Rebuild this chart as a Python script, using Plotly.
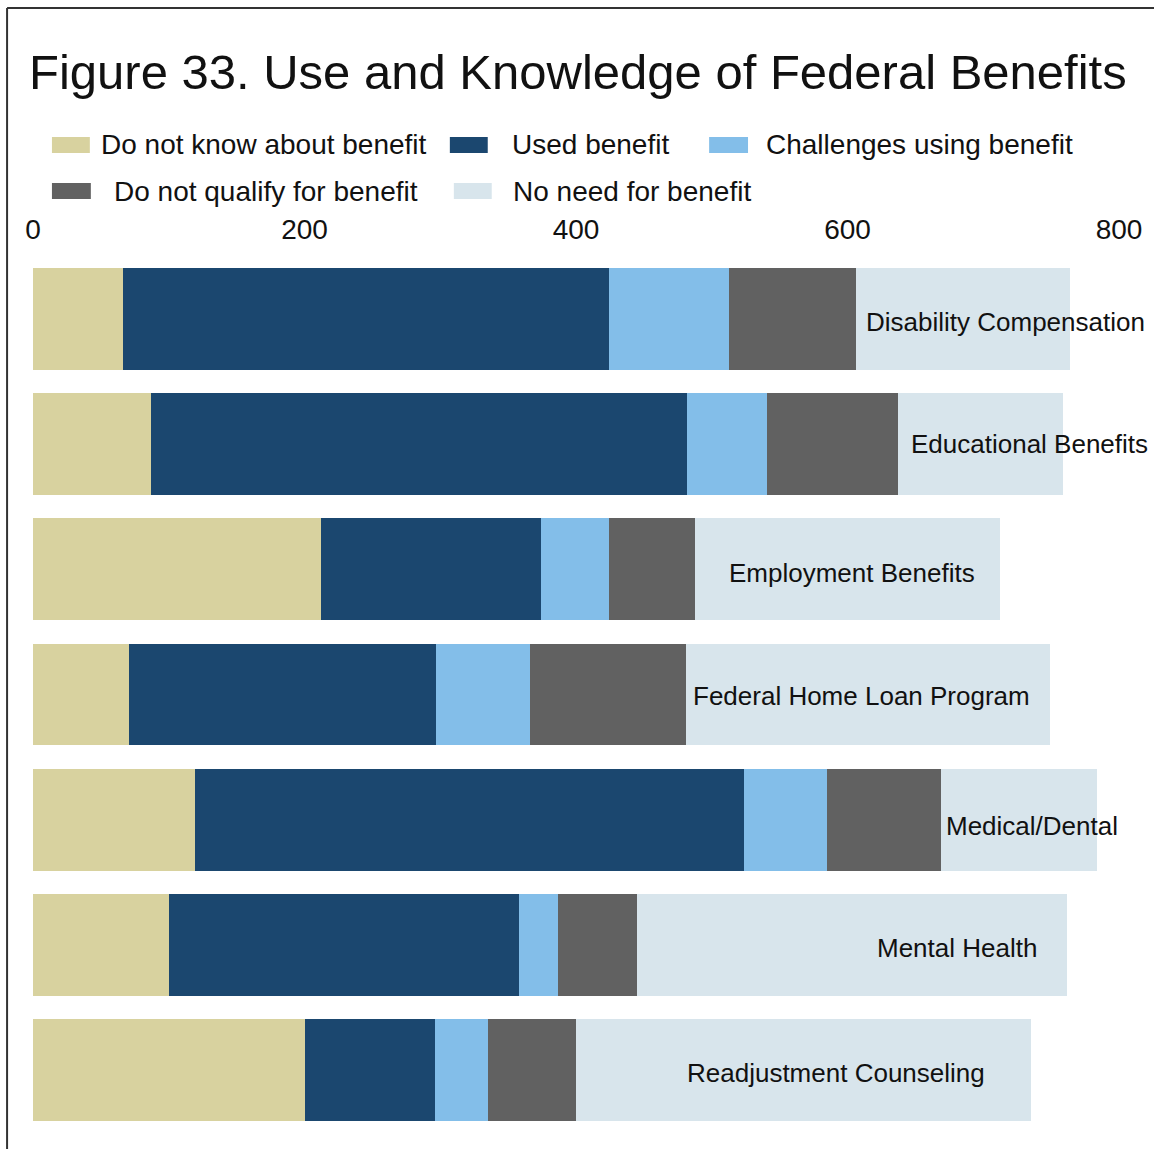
import plotly.graph_objects as go

categories = ["Disability Compensation", "Educational Benefits", "Employment Benefits",
              "Federal Home Loan Program", "Medical/Dental", "Mental Health",
              "Readjustment Counseling"]
series_names = ["Do not know about benefit", "Used benefit", "Challenges using benefit",
                "Do not qualify for benefit", "No need for benefit"]
do_not_know = [66, 87, 212, 71, 119, 100, 200]
used = [358, 395, 162, 226, 405, 258, 96]
challenges = [89, 59, 50, 69, 61, 29, 39]
not_qualify = [93, 96, 64, 115, 84, 58, 65]
no_need = [158, 122, 224, 268, 115, 317, 335]
tick_vals = [0, 200, 400, 600, 800]
tick_text = ["0", "200", "400", "600", "800"]
# left edge of each category label, in axis units
label_x = [612, 645, 511, 485, 671, 620, 480]
# small vertical nudges of category labels (pixels, positive = down)
label_dy = [3, 0, 4, 1, 6, 3, 3]

colors = ["#D8D29F", "#1B476F", "#83BEE9", "#616161", "#D8E5EC"]
series = [do_not_know, used, challenges, not_qualify, no_need]

FONT = "Liberation Sans, Arial, sans-serif"
W, H = 1154, 1149
ML, MR, MT, MB = 33, 32, 256, 16
PW, PH = W - ML - MR, H - MT - MB


def px_x(p):
    return (p - ML) / PW


def px_y(p):
    return (H - MB - p) / PH


fig = go.Figure()
for name, vals, col in zip(series_names, series, colors):
    fig.add_trace(go.Bar(
        y=categories, x=vals, name=name, orientation="h",
        marker=dict(color=col, line=dict(width=0)),
        showlegend=False,
    ))

annotations = []
for cat, lx, dy in zip(categories, label_x, label_dy):
    annotations.append(dict(
        x=lx, y=cat, xref="x", yref="y", text=cat, showarrow=False,
        xanchor="left", yanchor="middle", yshift=-dy,
        font=dict(family=FONT, size=26, color="#111111"),
    ))

# title
annotations.append(dict(
    x=px_x(27), y=px_y(72), xref="paper", yref="paper",
    text="Figure 33. Use and Knowledge of Federal Benefits", showarrow=False,
    xanchor="left", yanchor="middle",
    font=dict(family=FONT, size=49, color="#111111"),
))

# manual legend
legend_layout = [
    # (series index, swatch x0, swatch x1, row y center, text x)
    (0, 52, 90, 145, 99),
    (1, 451, 489, 145, 511),
    (2, 711, 750, 145, 766),
    (3, 52, 91, 191, 112),
    (4, 455, 493, 191, 512),
]
shapes = []
for idx, sx0, sx1, cy, tx in legend_layout:
    shapes.append(dict(
        type="rect", xref="paper", yref="paper",
        x0=px_x(sx0), x1=px_x(sx1), y0=px_y(cy - 8), y1=px_y(cy + 8),
        fillcolor=colors[idx], line=dict(width=0),
    ))
    annotations.append(dict(
        x=px_x(tx), y=px_y(cy), xref="paper", yref="paper",
        text=series_names[idx], showarrow=False,
        xanchor="left", yanchor="middle",
        font=dict(family=FONT, size=28, color="#111111"),
    ))

# frame lines (top and left)
shapes.append(dict(type="line", xref="paper", yref="paper",
                   x0=px_x(7), x1=px_x(1160), y0=px_y(8), y1=px_y(8),
                   line=dict(color="#333333", width=2)))
shapes.append(dict(type="line", xref="paper", yref="paper",
                   x0=px_x(7), x1=px_x(7), y0=px_y(8), y1=px_y(1160),
                   line=dict(color="#333333", width=2)))

fig.update_layout(
    width=W, height=H,
    margin=dict(l=ML, r=MR, t=MT, b=MB, pad=0),
    barmode="stack", bargap=0.186,
    plot_bgcolor="white", paper_bgcolor="white",
    showlegend=False,
    annotations=annotations, shapes=shapes,
    xaxis=dict(range=[0, 800], side="top", tickvals=tick_vals, ticktext=tick_text,
               showgrid=False, zeroline=False, showline=False, ticks="",
               ticklabelstandoff=10,
               tickfont=dict(family=FONT, size=28, color="#111111"), fixedrange=True),
    yaxis=dict(categoryorder="array", categoryarray=categories, autorange="reversed",
               showticklabels=False, showgrid=False, zeroline=False, showline=False,
               ticks="", fixedrange=True),
)

fig.write_html("out.html", config={"displayModeBar": False},
               post_script="document.body.style.margin='0px';document.body.style.overflow='hidden';")
